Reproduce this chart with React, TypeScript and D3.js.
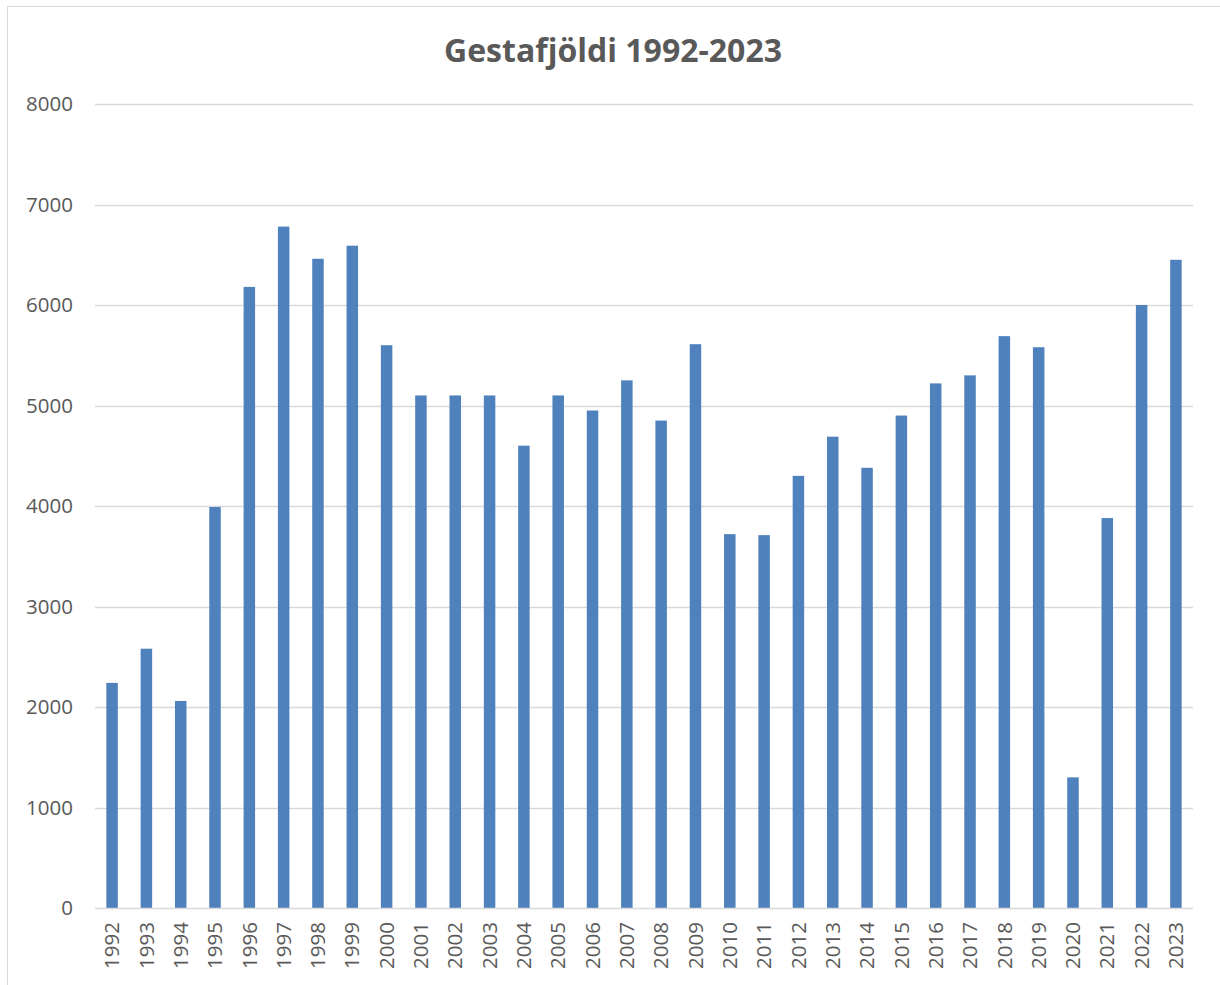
import { useEffect, useRef } from 'react';
import * as d3 from 'd3';

const years = [
  '1992', '1993', '1994', '1995', '1996', '1997', '1998', '1999', '2000', '2001', '2002',
  '2003', '2004', '2005', '2006', '2007', '2008', '2009', '2010', '2011', '2012', '2013',
  '2014', '2015', '2016', '2017', '2018', '2019', '2020', '2021', '2022', '2023',
];

const guests = [
  2240, 2580, 2060, 3990, 6180, 6780, 6460, 6590, 5600, 5100, 5100,
  5100, 4600, 5100, 4950, 5250, 4850, 5610, 3720, 3710, 4300, 4690,
  4380, 4900, 5220, 5300, 5690, 5580, 1300, 3880, 6000, 6450,
];

const yTicks = [0, 1000, 2000, 3000, 4000, 5000, 6000, 7000, 8000];

const title = 'Gestafjöldi 1992-2023';

export default function App() {
  const svgRef = useRef<SVGSVGElement>(null);

  useEffect(() => {
    if (!svgRef.current) return;
    const svg = d3.select(svgRef.current);
    svg.selectAll('*').remove();

    const width = 1220;
    const height = 985;
    const left = 95;
    const right = 1193;
    const top = 104;
    const bottom = 908;
    const font = "'Open Sans', 'Liberation Sans', sans-serif";

    // chart frame
    svg
      .append('rect')
      .attr('x', 7.5)
      .attr('y', 6.5)
      .attr('width', width + 10)
      .attr('height', height + 10)
      .attr('fill', '#fff')
      .attr('stroke', '#d9d9d9')
      .attr('stroke-width', 1);

    const x = d3.scaleBand<string>().domain(years).range([left, right]).paddingInner(0.665).paddingOuter(0.33);
    const y = d3.scaleLinear().domain([0, 8000]).range([bottom, top]);

    // grid lines
    svg
      .append('g')
      .selectAll('line')
      .data(yTicks.filter((t) => t > 0))
      .enter()
      .append('line')
      .attr('x1', left)
      .attr('x2', right)
      .attr('y1', (d) => Math.round(y(d)) + 0.5)
      .attr('y2', (d) => Math.round(y(d)) + 0.5)
      .attr('stroke', '#d9d9d9')
      .attr('stroke-width', 1.5);

    // y labels
    svg
      .append('g')
      .selectAll('text')
      .data(yTicks)
      .enter()
      .append('text')
      .attr('x', 73)
      .attr('y', (d) => y(d))
      .attr('dy', '0.35em')
      .attr('text-anchor', 'end')
      .attr('font-family', font)
      .attr('font-size', 20.5)
      .attr('fill', '#595959')
      .text((d) => d);

    // bars
    svg
      .append('g')
      .selectAll('rect')
      .data(guests)
      .enter()
      .append('rect')
      .attr('x', (_, i) => x(years[i])!)
      .attr('y', (d) => y(d))
      .attr('width', x.bandwidth())
      .attr('height', (d) => bottom - y(d))
      .attr('fill', '#4f81bd');

    // baseline
    svg
      .append('line')
      .attr('x1', left)
      .attr('x2', right)
      .attr('y1', bottom + 0.5)
      .attr('y2', bottom + 0.5)
      .attr('stroke', '#d9d9d9')
      .attr('stroke-width', 1.5);

    // x labels
    svg
      .append('g')
      .selectAll('text')
      .data(years)
      .enter()
      .append('text')
      .attr(
        'transform',
        (d) => `translate(${x(d)! + x.bandwidth() / 2},${922}) rotate(-90)`
      )
      .attr('dy', '0.35em')
      .attr('text-anchor', 'end')
      .attr('font-family', font)
      .attr('font-size', 20.5)
      .attr('fill', '#595959')
      .text((d) => d);

    // title
    svg
      .append('text')
      .attr('x', 613)
      .attr('y', 62)
      .attr('text-anchor', 'middle')
      .attr('font-family', font)
      .attr('font-weight', 'bold')
      .attr('font-size', 32)
      .attr('fill', '#595959')
      .text(title);
  }, []);

  return (
    <svg
      ref={svgRef}
      width={1220}
      height={985}
      style={{ position: 'absolute', left: 0, top: 0, display: 'block' }}
    />
  );
}
